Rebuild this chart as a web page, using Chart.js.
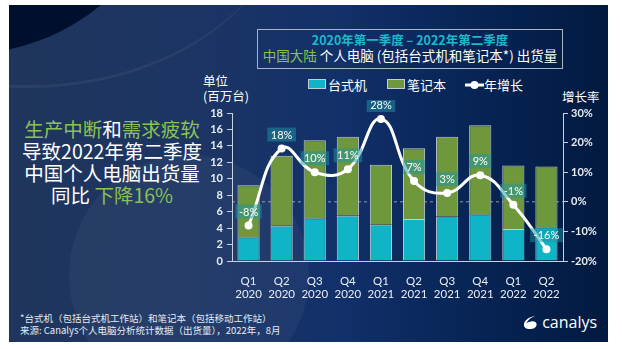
<!DOCTYPE html>
<html>
<head>
<meta charset="utf-8">
<script src="https://cdn.jsdelivr.net/npm/chart.js@4/dist/chart.umd.min.js"></script>
<style>
  body { margin: 0; background: #fff; width: 622px; height: 349px; overflow: hidden; }
  #panel {
    position: absolute; left: 9px; top: 5px; width: 599px; height: 337px; overflow: hidden;
    background: linear-gradient(90deg, #1f355d 0%, #1c3563 30%, #12306a 55%, #072455 78%, #021a40 100%);
    font-family: "Noto Sans CJK SC", sans-serif; color: #fff;
  }
  #glow {
    position: absolute; left: 60px; top: 150px; width: 240px; height: 240px; border-radius: 50%;
    background: rgba(255,255,255,0.045);
  }
  #corner {
    position: absolute; left: -260px; top: -330px; width: 420px; height: 380px; border-radius: 50%;
    background: #000f2e;
  }
  #streak {
    position: absolute; left: -240px; top: -300px; width: 520px; height: 380px; border-radius: 50%;
    border-bottom: 3px solid rgba(255,255,255,0.06);
  }
  .abs { position: absolute; white-space: nowrap; }
  .g { color: #8cc152; }
  #titlebox {
    position: absolute; left: 248px; top: 24px; width: 304px; height: 38px;
    border: 1px solid #a9b4c4; text-align: center;
  }
  #t1 { font-size: 12.5px; font-weight: bold; color: #1db8cc; line-height: 14px; margin-top: 3px; }
  #t2 { font-size: 13.5px; line-height: 17px; }
  #head { left: 3px; top: 113px; width: 200px; text-align: center; font-size: 19.5px; line-height: 22px; }
  .leg { position: absolute; top: 73px; font-size: 13px; line-height: 14px; }
  .sw { display: inline-block; width: 16px; height: 8px; border: 1px solid #c5ccd6; vertical-align: 1px; margin-right: 2px; }
  #foot { left: 11px; top: 307px; font-size: 9.5px; line-height: 12px; color: #e6ebf2; }
  #logo { left: 514px; top: 306px; font-size: 16px; font-family: "Open Sans", sans-serif; }
  canvas { position: absolute; left: 171px; top: 95px; }
</style>
</head>
<body>
<div id="panel">
  <div id="corner"></div>
  <div id="streak"></div>
  <div id="glow"></div>
  <div id="titlebox">
    <div id="t1">2020年第一季度 – 2022年第二季度</div>
    <div id="t2"><span class="g">中国大陆</span> 个人电脑 (包括台式机和笔记本*) 出货量</div>
  </div>
  <div id="head" class="abs"><span class="g">生产中断</span>和<span class="g">需求疲软</span><br>导致2022年第二季度<br>中国个人电脑出货量<br>同比 <span class="g">下降16%</span></div>
  <div class="abs" style="left:194px; top:68px; font-size:12.5px; line-height:15px;">单位<br>(百万台)</div>
  <div class="abs" style="left:553px; top:82px; font-size:12.5px;">增长率</div>
  <div class="leg" style="left:299px;"><span class="sw" style="background:#0fb5c6"></span>台式机</div>
  <div class="leg" style="left:378px;"><span class="sw" style="background:#6e983b"></span>笔记本</div>
  <div class="leg" style="left:456px;"><svg width="19" height="10" style="vertical-align:0px"><line x1="0" y1="5" x2="19" y2="5" stroke="#fff" stroke-width="3"/><circle cx="9.5" cy="5" r="4" fill="#fff"/></svg>年增长</div>
  <div id="foot" class="abs">*台式机（包括台式机工作站）和笔记本（包括移动工作站）<br>来源: Canalys个人电脑分析统计数据（出货量），2022年，8月</div>
  <div id="logo" class="abs"><svg width="15" height="15" viewBox="0 0 16 16" style="vertical-align:-2px"><path d="M13 1 C6 2 1 6 1 10.5 C1 13.5 3.5 15 7 15 C11 15 14.5 13 14.5 10 C14.5 7.5 12 6.5 9 6.8 C6.5 7 4.5 8 3.5 9 C5 5 9 2.5 13 1 Z" fill="#fff"/></svg> canalys</div>
  <canvas id="c" width="430" height="200"></canvas>
</div>
<script>
const quarters = [['Q1','2020'],['Q2','2020'],['Q3','2020'],['Q4','2020'],['Q1','2021'],['Q2','2021'],['Q3','2021'],['Q4','2021'],['Q1','2022'],['Q2','2022']];
const desktop = [2.9, 4.3, 5.2, 5.5, 4.4, 5.1, 5.4, 5.7, 3.9, 4.1];
const notebook = [6.3, 8.5, 9.5, 9.6, 7.3, 8.6, 9.7, 10.8, 7.7, 7.4];
const growth = [-8, 18, 10, 11, 28, 7, 3, 9, -1, -16];

const axisCol = '#c9d1dc';
const tickFont = { family: 'Lato, "Noto Sans CJK SC", sans-serif', size: 11, weight: 'bold' };

// dashed line at 0% and boxed growth labels
const extras = {
  id: 'extras',
  beforeDatasetsDraw(chart) {
    const c = chart.ctx, a = chart.chartArea;
    const y = chart.scales.y1.getPixelForValue(0);
    c.save();
    c.strokeStyle = 'rgba(225,230,240,0.6)';
    c.lineWidth = 1;
    c.setLineDash([3, 3]);
    c.beginPath(); c.moveTo(a.left, y); c.lineTo(a.right, y); c.stroke();
    c.restore();
  },
  afterDatasetsDraw(chart) {
    const c = chart.ctx;
    const meta = chart.getDatasetMeta(2);
    c.save();
    c.font = '11px Lato, "Noto Sans", sans-serif';
    c.textAlign = 'center';
    c.textBaseline = 'middle';
    meta.data.forEach((pt, i) => {
      const txt = growth[i] + '%';
      const w = c.measureText(txt).width + 7;
      const cy = pt.y - 14;
      c.fillStyle = 'rgba(30,150,165,0.5)';
      c.fillRect(pt.x - w / 2, cy - 7, w, 14);
      c.fillStyle = '#ffffff';
      c.fillText(txt, pt.x, cy + 0.5);
    });
    c.restore();
  }
};

new Chart(document.getElementById('c'), {
  data: {
    labels: quarters,
    datasets: [
      { type: 'bar', label: '台式机', data: desktop, backgroundColor: '#0fb5c6', borderColor: '#c5ccd6', borderWidth: 1, yAxisID: 'y', order: 1 },
      { type: 'bar', label: '笔记本', data: notebook, backgroundColor: '#6e983b', borderColor: '#c5ccd6', borderWidth: 1, yAxisID: 'y', order: 1 },
      { type: 'line', label: '年增长', data: growth, borderColor: '#ffffff', borderWidth: 3, tension: 0.45,
        pointRadius: 4, pointBackgroundColor: '#ffffff', pointBorderWidth: 0, yAxisID: 'y1', order: 0 }
    ]
  },
  options: {
    responsive: false,
    devicePixelRatio: 1,
    animation: false,
    categoryPercentage: 0.67,
    barPercentage: 1,
    layout: { padding: { top: 13 } },
    plugins: { legend: { display: false }, tooltip: { enabled: false } },
    scales: {
      x: {
        stacked: true,
        grid: { display: false },
        border: { color: axisCol },
        ticks: { color: '#e8edf3', font: { family: 'Lato, sans-serif', size: 11.5 }, padding: 5, maxRotation: 0 },
        afterFit(s) { s.height = 39; }
      },
      y: {
        stacked: true, position: 'left', min: 0, max: 18,
        grid: { drawOnChartArea: false, color: axisCol, tickLength: 5 },
        border: { color: axisCol },
        ticks: { stepSize: 2, color: '#e8edf3', font: tickFont, padding: 4 },
        afterFit(s) { s.width = 52; }
      },
      y1: {
        position: 'right', min: -20, max: 30,
        grid: { drawOnChartArea: false, color: axisCol, tickLength: 5 },
        border: { color: axisCol },
        ticks: { stepSize: 5, color: '#e8edf3', font: tickFont, padding: 3, callback: v => v + '%' },
        afterFit(s) { s.width = 47; }
      }
    }
  },
  plugins: [extras]
});
</script>
</body>
</html>
